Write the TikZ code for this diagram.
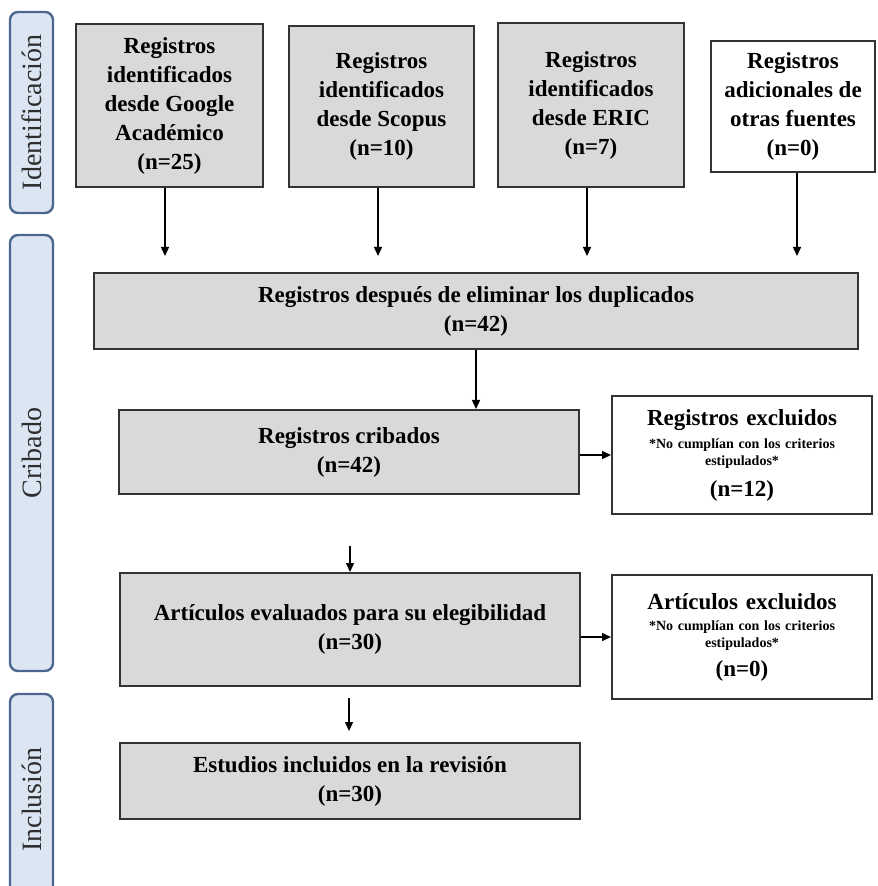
\documentclass[tikz,border=0pt]{standalone}
\usepackage{fontspec}
\setmainfont{Liberation Serif}
\usepackage{tikz}
\usetikzlibrary{arrows.meta}
\definecolor{phasefill}{HTML}{DCE6F2}
\definecolor{phaseedge}{HTML}{4D6690}
\newcommand{\boxfont}{\fontsize{11.5}{14.5}\selectfont\bfseries}
\newcommand{\notefont}{\fontsize{7}{8.5}\selectfont\spaceskip=0pt\xspaceskip=0pt}
\tikzstyle{source} = [rectangle, text centered, align=center, draw=black!80, line width=1pt, fill=black!15, font=\boxfont, inner sep=2pt]
\tikzstyle{other} = [source, fill=white]
\tikzstyle{excluded} = [rectangle, align=center, text width=124pt, draw=black!80, line width=1pt, fill=white, font=\boxfont, inner sep=3pt]
\tikzstyle{phase} = [rectangle, rounded corners=4pt, rotate=90, minimum height=21.5pt, draw=phaseedge, line width=1.2pt, fill=phasefill, text=black!82, font=\fontsize{14}{16}\selectfont]
\tikzstyle{arrow} = [line width=0.7pt, ->, >={Triangle[length=4.5pt, width=4pt]}]

\begin{document}
\begin{tikzpicture}[x=0.5pt, y=-0.5pt]
  \useasboundingbox (0,0) rectangle (877,886);

  % fases
  \node (ident)     [phase, minimum width=100.5pt] at (31.5,112.5) {Identificación};
  \node (cribado)   [phase, minimum width=218pt]   at (31.5,453)   {Cribado};
  \node (inclusion) [phase, minimum width=105.5pt] at (31.5,799.5) {Inclusión};

  % fuentes
  \node (google)  [source, minimum width=93.5pt, minimum height=81.5pt] at (169.5,105.5) {Registros\\identificados\\desde Google\\Académico\\(n=25)};
  \node (scopus)  [source, minimum width=92.5pt, minimum height=80.5pt] at (381.5,106.5) {Registros\\identificados\\desde Scopus\\(n=10)};
  \node (eric)    [source, minimum width=93pt, minimum height=82pt]     at (591,105)     {Registros\\identificados\\desde ERIC\\(n=7)};
  \node (otras)   [other, minimum width=82pt, minimum height=65.5pt]    at (793,106.5)   {Registros\\adicionales de\\otras fuentes\\(n=0)};

  \node (dup)       [source, minimum width=382pt, minimum height=38pt]   at (476,311)   {Registros después de eliminar los duplicados\\(n=42)};
  \node (cribados)  [source, minimum width=230pt, minimum height=42pt]   at (349,452)   {Registros cribados\\(n=42)};
  \node (articulos) [source, minimum width=230pt, minimum height=56.5pt] at (350,629.5) {Artículos evaluados para su elegibilidad\\(n=30)};
  \node (estudios)  [source, minimum width=230pt, minimum height=38pt]   at (350,781)   {Estudios incluidos en la revisión\\(n=30)};

  % excluidos
  \node (regexcl) [excluded, minimum height=59pt] at (742,455)
    {Registros excluidos\par\vspace{3pt}{\notefont *No cumplían con los criterios\\ estipulados*\par}\vspace{1pt}(n=12)};
  \node (artexcl) [excluded, minimum height=62pt] at (742,637)
    {Artículos excluidos\par\vspace{2pt}{\notefont *No cumplían con los criterios\\ estipulados*\par}\vspace{0pt}(n=0)};

  \coordinate (gtip) at (165,256);
  \coordinate (stip) at (378,256);
  \coordinate (etip) at (587,256);
  \coordinate (otip) at (797,256);
  \coordinate (art1) at (350,546);
  \coordinate (est0) at (349,698);
  \coordinate (est1) at (349,731);

  \draw [arrow] (google.south -| gtip) -- (gtip);
  \draw [arrow] (scopus.south -| stip) -- (stip);
  \draw [arrow] (eric.south -| etip)   -- (etip);
  \draw [arrow] (otras.south -| otip)  -- (otip);

  \draw [arrow] (dup.south) -- (dup.south |- cribados.north);
  \draw [arrow] (cribados.east |- regexcl) -- (regexcl.west);
  \draw [arrow] (art1) -- (articulos.north);
  \draw [arrow] (articulos.east |- artexcl) -- (artexcl.west);
  \draw [arrow] (est0) -- (est1);
\end{tikzpicture}
\end{document}
